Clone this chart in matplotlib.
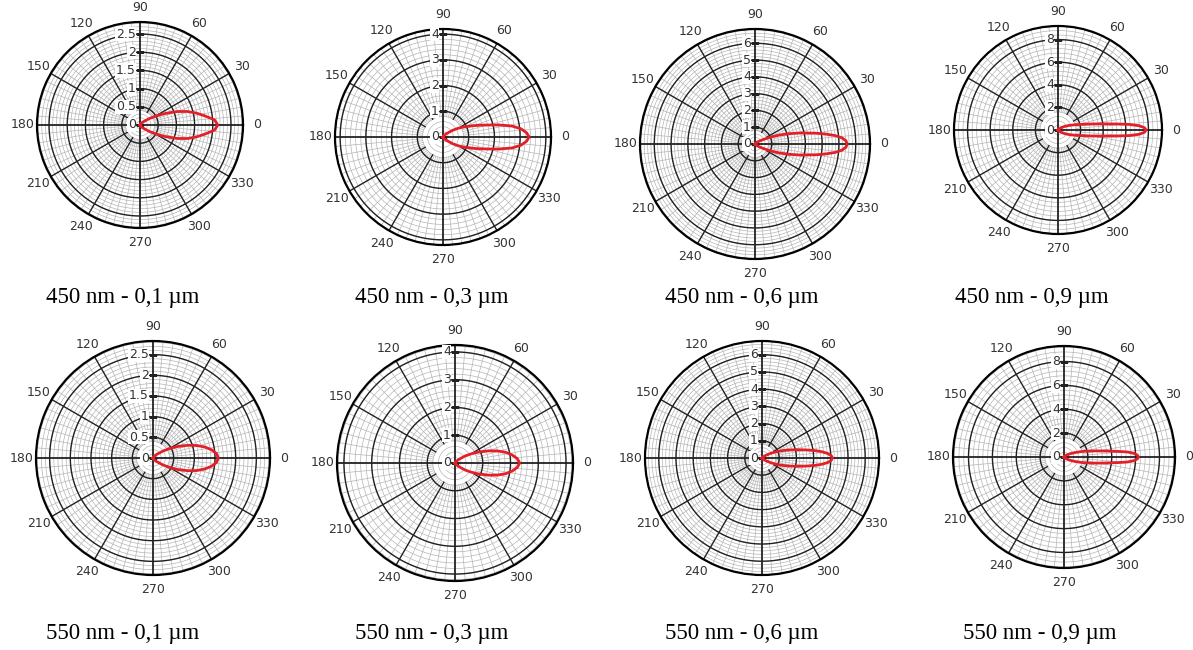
import numpy as np
import matplotlib.pyplot as plt

W, H = 1193, 650

captions = ["450 nm - 0,1 µm", "450 nm - 0,3 µm", "450 nm - 0,6 µm", "450 nm - 0,9 µm",
            "550 nm - 0,1 µm", "550 nm - 0,3 µm", "550 nm - 0,6 µm", "550 nm - 0,9 µm"]

# radial scale of each panel
r_max = [2.83, 4.2, 6.85, 9.2, 2.83, 4.25, 6.8, 9.3]
r_ticks = [[0, 0.5, 1, 1.5, 2, 2.5], [0, 1, 2, 3, 4], [0, 1, 2, 3, 4, 5, 6], [0, 2, 4, 6, 8],
           [0, 0.5, 1, 1.5, 2, 2.5], [0, 1, 2, 3, 4], [0, 1, 2, 3, 4, 5, 6], [0, 2, 4, 6, 8]]
theta_ticks = list(range(0, 360, 30))

# half lobes (upper half, mirrored about 0 deg), angle in degrees / radius
lobe_deg = [
    [0, 4, 8, 12, 16, 20, 25, 30, 35, 45, 60, 90],
    [0, 3, 6, 9, 12, 15, 18, 21, 25, 30, 35, 45, 60, 90],
    [0, 2, 4, 6, 8, 10, 12, 14, 17, 20, 24, 28, 35, 45, 60, 90],
    [0, 1.5, 3, 4.5, 6, 8, 10, 13, 17, 22, 28, 35, 45, 60, 90],
    [0, 4, 8, 12, 16, 20, 25, 30, 35, 45, 60, 90],
    [0, 4, 8, 12, 16, 20, 25, 30, 35, 45, 60, 90],
    [0, 2, 4, 6, 8, 10, 12, 14, 17, 20, 24, 28, 35, 45, 60, 90],
    [0, 1.5, 3, 4.5, 6, 8, 10, 13, 17, 22, 28, 35, 45, 60, 90],
]
lobe_r = [
    [2.14, 2.05, 1.80, 1.58, 1.35, 1.08, 0.74, 0.48, 0.30, 0.12, 0.04, 0.0],
    [3.35, 3.25, 3.05, 2.72, 2.25, 1.80, 1.48, 1.22, 0.95, 0.68, 0.45, 0.18, 0.05, 0.0],
    [5.5, 5.42, 5.2, 4.8, 4.25, 3.7, 3.15, 2.70, 2.1, 1.58, 1.0, 0.6, 0.28, 0.1, 0.03, 0.0],
    [7.8, 7.65, 7.2, 6.3, 5.1, 3.9, 3.05, 2.25, 1.6, 1.1, 0.7, 0.38, 0.14, 0.04, 0.0],
    [1.58, 1.54, 1.43, 1.28, 1.10, 0.90, 0.66, 0.45, 0.29, 0.12, 0.03, 0.0],
    [2.33, 2.25, 2.08, 1.86, 1.58, 1.28, 0.93, 0.65, 0.43, 0.17, 0.04, 0.0],
    [4.1, 4.02, 3.82, 3.5, 3.1, 2.68, 2.3, 1.98, 1.58, 1.25, 0.88, 0.6, 0.28, 0.09, 0.03, 0.0],
    [6.25, 6.15, 5.85, 5.35, 4.5, 3.6, 2.95, 2.25, 1.6, 1.0, 0.6, 0.33, 0.13, 0.04, 0.0],
]

# panel centres / radii in pixels, caption positions
centers = [(140, 125, 103), (443, 137, 108), (755, 144, 115), (1058, 130, 104),
           (153, 458, 117), (455, 463, 118), (762, 458, 117), (1064, 457, 111)]
cap_pos = [(123, 297), (432, 297), (742, 297), (1032, 297),
           (123, 633), (432, 633), (742, 633), (1040, 633)]

fig = plt.figure(figsize=(W / 100, H / 100), dpi=100)

for i in range(8):
    cx, cy, R = centers[i]
    ax = fig.add_axes([(cx - R) / W, 1 - (cy + R) / H, 2 * R / W, 2 * R / H], projection="polar")
    rm = r_max[i]
    ticks = r_ticks[i]
    step = ticks[1] - ticks[0]
    ax.set_ylim(0, rm)
    ax.set_yticks([])
    ax.grid(False)

    full = np.linspace(0, 2 * np.pi, 400)
    # minor rings
    for r in np.arange(step / 5, rm, step / 5):
        ax.plot(full, np.full_like(full, r), color="#b5b5b5", lw=0.5, zorder=1)
    # minor spokes
    r0 = step * 0.8
    for d in range(0, 360, 5):
        if d % 30:
            ax.plot([np.radians(d)] * 2, [r0, rm], color="#b5b5b5", lw=0.5, zorder=1)
    # major rings
    for r in ticks[1:]:
        ax.plot(full, np.full_like(full, r), color="#222222", lw=1.0, zorder=2)
    # major spokes
    for d in theta_ticks:
        start = 0 if d % 90 == 0 else r0
        ax.plot([np.radians(d)] * 2, [start, rm], color="#222222",
                lw=1.3 if d % 90 == 0 else 1.0, zorder=2)
    ax.spines["polar"].set_linewidth(1.6)

    ax.set_xticks(np.radians(theta_ticks))
    ax.set_xticklabels([str(t) for t in theta_ticks], fontsize=9, color="#333333")
    ax.tick_params(axis="x", pad=0)

    # radial labels along 90 deg
    ax.plot([np.pi / 2] * len(ticks), ticks, ls="none", marker="_", ms=6, mew=1,
            color="#222222", zorder=3)
    for v in ticks:
        ax.annotate(f"{v:g}", xy=(np.pi / 2, v), xytext=(-3, 0), textcoords="offset points",
                    ha="right", va="center", fontsize=9, color="#333333", zorder=4,
                    bbox=dict(boxstyle="square,pad=0.05", fc="white", ec="none"))

    # lobe
    deg = np.array(lobe_deg[i])
    rr = np.array(lobe_r[i])
    th = np.radians(np.concatenate([-deg[::-1], deg[1:]]))
    rv = np.concatenate([rr[::-1], rr[1:]])
    ax.plot(th, rv, color="#e3202a", lw=2.0, zorder=5)

    x, y = cap_pos[i]
    fig.text(x / W, 1 - y / H, captions[i], ha="center", va="center",
             fontsize=16.5, family="Liberation Serif")

plt.savefig("out.png", dpi=100)
